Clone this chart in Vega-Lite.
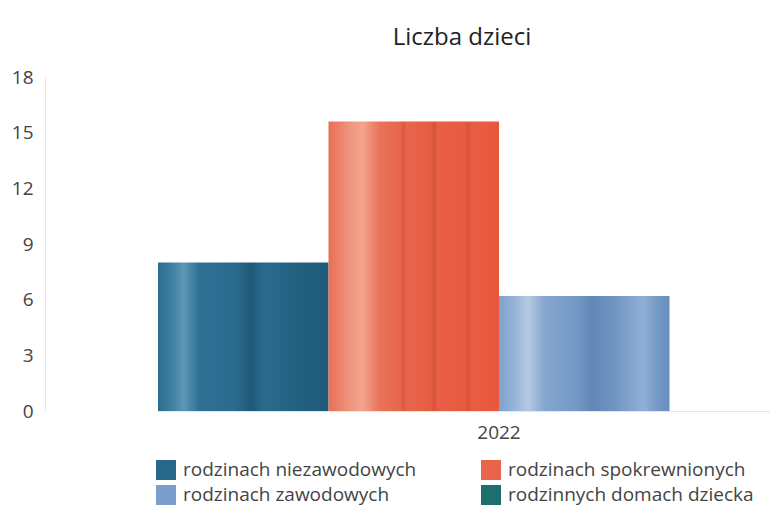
{
  "$schema": "https://vega.github.io/schema/vega-lite/v6.json",
  "width": 710,
  "height": 334,
  "autosize": "none",
  "padding": {"left": 45, "top": 77, "right": 15, "bottom": 96},
  "background": "white",
  "config": {"font": "Open Sans", "view": {"stroke": null}},
  "title": {"text": "Liczba dzieci", "fontSize": 24, "fontWeight": "normal", "color": "#222222", "anchor": "middle", "dx": 62, "dy": 29, "offset": 28, "baseline": "alphabetic"},
  "data": {"values": [
    {"rok": "2022", "typ": "rodzinach niezawodowych", "liczba": 8},
    {"rok": "2022", "typ": "rodzinach spokrewnionych", "liczba": 15.6},
    {"rok": "2022", "typ": "rodzinach zawodowych", "liczba": 6.2},
    {"rok": "2022", "typ": "rodzinnych domach dziecka", "liczba": 0}
  ]},
  "mark": {"type": "bar"},
  "encoding": {
    "x": {"field": "rok", "type": "nominal", "scale": {"range": [113, 795], "paddingInner": 0, "paddingOuter": 0},
      "axis": {"title": null, "labelAngle": 0, "labelFontSize": 19, "labelColor": "#444444", "ticks": false, "grid": false, "domainColor": "#e6e6e6", "labelPadding": 12}},
    "xOffset": {"field": "typ", "type": "nominal", "sort": ["rodzinach niezawodowych", "rodzinach spokrewnionych", "rodzinach zawodowych", "rodzinnych domach dziecka"], "scale": {"paddingInner": 0, "paddingOuter": 0}},
    "y": {"field": "liczba", "type": "quantitative", "scale": {"domain": [0, 18]},
      "axis": {"title": null, "values": [0, 3, 6, 9, 12, 15, 18], "ticks": false, "grid": false, "domainColor": "#e6e6e6", "labelFontSize": 19, "labelColor": "#444444", "labelPadding": 12}},
    "color": {
      "condition": [
        {"test": "datum.typ === 'rodzinach niezawodowych'", "value": {"gradient": "linear", "x1": 0, "y1": 0, "x2": 1, "y2": 0, "stops": [
            {"offset": 0, "color": "#2a6d90"}, {"offset": 0.08, "color": "#3f7fa0"}, {"offset": 0.15, "color": "#5e97b5"}, {"offset": 0.24, "color": "#2f7296"},
            {"offset": 0.45, "color": "#2a6b8e"}, {"offset": 0.55, "color": "#1f5878"}, {"offset": 0.62, "color": "#2a6a8c"}, {"offset": 0.85, "color": "#23607f"}, {"offset": 1, "color": "#1f5a7a"}]}},
        {"test": "datum.typ === 'rodzinach spokrewnionych'", "value": {"gradient": "linear", "x1": 0, "y1": 0, "x2": 1, "y2": 0, "stops": [
            {"offset": 0, "color": "#e86e55"}, {"offset": 0.12, "color": "#ef937c"}, {"offset": 0.2, "color": "#f2a48f"}, {"offset": 0.3, "color": "#ea7359"},
            {"offset": 0.42, "color": "#e8664c"}, {"offset": 0.44, "color": "#d95a42"}, {"offset": 0.46, "color": "#e8664c"},
            {"offset": 0.6, "color": "#e85d43"}, {"offset": 0.62, "color": "#d5523a"}, {"offset": 0.64, "color": "#e95f45"},
            {"offset": 0.8, "color": "#e85a40"}, {"offset": 0.82, "color": "#d9523a"}, {"offset": 0.84, "color": "#e95e44"}, {"offset": 1, "color": "#e9573d"}]}},
        {"test": "datum.typ === 'rodzinach zawodowych'", "value": {"gradient": "linear", "x1": 0, "y1": 0, "x2": 1, "y2": 0, "stops": [
            {"offset": 0, "color": "#7ea2cb"}, {"offset": 0.1, "color": "#98b6da"}, {"offset": 0.17, "color": "#b4cae3"}, {"offset": 0.27, "color": "#84a6cf"},
            {"offset": 0.45, "color": "#7599c6"}, {"offset": 0.55, "color": "#6287b8"}, {"offset": 0.7, "color": "#7498c5"}, {"offset": 0.85, "color": "#90afd5"},
            {"offset": 0.93, "color": "#7599c6"}, {"offset": 1, "color": "#6b8fbe"}]}}
      ],
      "field": "typ", "type": "nominal",
      "scale": {"domain": ["rodzinach niezawodowych", "rodzinach zawodowych", "rodzinach spokrewnionych", "rodzinnych domach dziecka"],
        "range": ["#27688b", "#7b9fca", "#e8644a", "#1c6f6d"]},
      "legend": {"title": null, "orient": "none", "legendX": 111, "legendY": 383, "columns": 2, "symbolType": "square", "symbolSize": 400, "symbolStrokeWidth": 0,
        "labelFontSize": 19, "labelColor": "#444444", "labelOffset": 7, "rowPadding": 5, "columnPadding": 64, "labelLimit": 400}
    }
  }
}
